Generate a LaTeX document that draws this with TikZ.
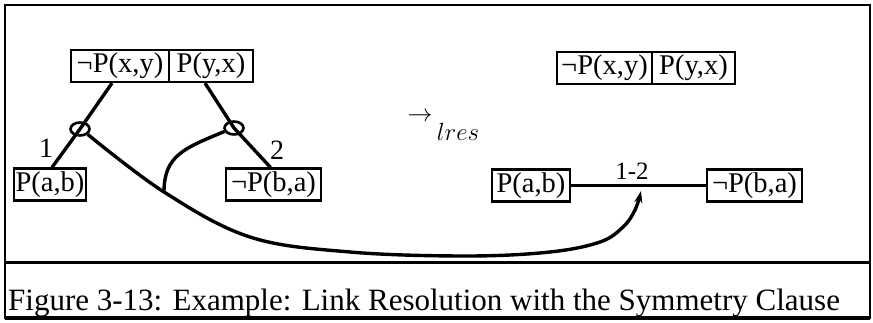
\documentclass[tikz,border=0pt]{standalone}
\usepackage{fontspec}
\setmainfont{Liberation Serif}
\usetikzlibrary{arrows.meta,calc,shapes.geometric}
\begin{document}
\begin{tikzpicture}[x=1pt,y=-1pt,
  lit/.style={draw,line width=2.2pt,inner sep=0pt,minimum height=32pt,font=\fontsize{28.5}{28.5}\selectfont},
  edge/.style={line width=3.4pt},
  ring/.style={draw,ellipse,line width=2.6pt,inner sep=0pt,minimum width=19pt,minimum height=13pt},
  lab/.style={font=\fontsize{28}{28}\selectfont,inner sep=0pt},
  linklab/.style={font=\fontsize{25}{25}\selectfont,inner sep=0pt},
  frame/.style={line width=2.4pt},
]
\useasboundingbox (0,0) rectangle (873,323);
% frame
\draw[frame] (5,5) rectangle (870,318);
\draw[line width=3pt] (5,263) -- (870,263);
\draw[line width=3.4pt] (5,318) -- (870,318);
% left tree
\node[lit,minimum width=98pt] (L1) at (120,66) {¬P(x,y)};
\node[lit,minimum width=84pt] (L2) at (211,66) {P(y,x)};
\coordinate (c1) at (80,129);
\coordinate (c2) at (234,128);
\node[lit,minimum width=72pt] (PAB) at (50,184.5) {P(a,b)};
\node[lit,minimum width=95pt] (NBA) at (273.5,184.5) {¬P(b,a)};
\draw[edge] ($(L1.south)+(-8,0)$) -- (c1) -- ($(PAB.north)+(2,0)$);
\draw[edge] ($(L2.south)+(-6,0)$) -- (c2) -- ($(NBA.north)+(-3,0)$);
\node[ring] (r1) at (c1) {};
\node[ring] (r2) at (c2) {};
\node[lab] (n1) at (46,148) {1};
\node[lab] (n2) at (277,150) {2};
% right side
\node[lit,minimum width=95pt] (R1) at (604.5,68) {¬P(x,y)};
\node[lit,minimum width=83pt] (R2) at (693.5,68) {P(y,x)};
\node[lit,minimum width=78pt] (RPAB) at (531,185.5) {P(a,b)};
\node[lit,minimum width=95pt] (RNBA) at (754.5,185.5) {¬P(b,a)};
\draw[line width=2.2pt] (RPAB) -- (RNBA);
\node[linklab] (l12) at (632,171) {1-2};
\coordinate (tip) at (641,191);
% lres
\node[inner sep=0pt,font=\fontsize{27}{27}\selectfont] (arr) at (420,117) {$\rightarrow$};
\node[inner sep=0pt,font=\fontsize{25}{25}\selectfont] (lres) at (458,132) {$lres$};
% curves
\coordinate (j) at (164,192);
\draw[edge,-{Stealth[length=12pt,width=8pt]}] plot[smooth,tension=0.6] coordinates {(r1.-35) (j) (250,237) (350,252) (467,256) (550,252) (600,242) (623,227) (635,210) (tip)};
\draw[edge] (r2.200) .. controls (185,148) and (164,155) .. (j);
% caption
\node[anchor=base west,inner sep=0pt,font=\fontsize{31}{31}\selectfont] (cap) at (8,310) {Figure 3-13: Example: Link Resolution with the Symmetry Clause};
\end{tikzpicture}
\end{document}
